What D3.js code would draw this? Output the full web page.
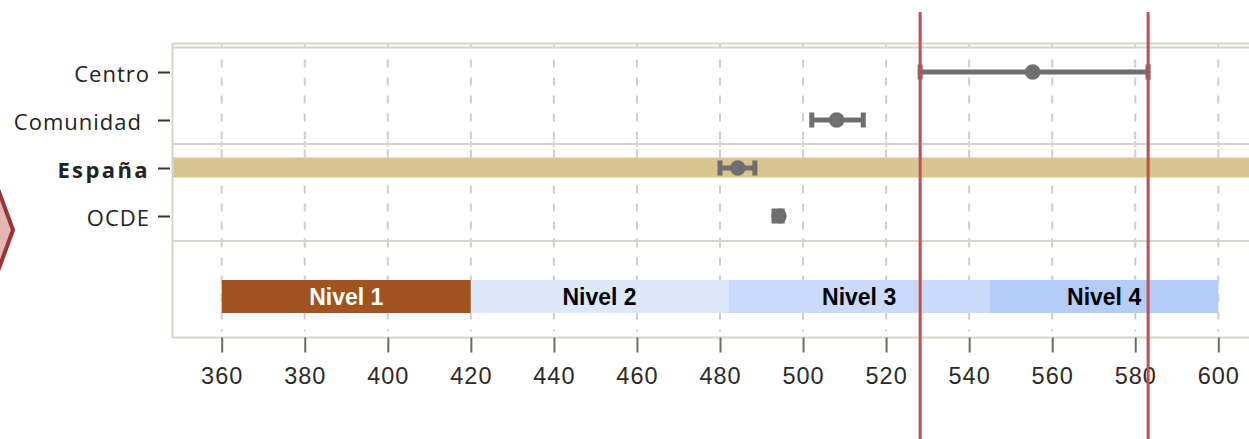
<!DOCTYPE html>
<html>
<head>
<meta charset="utf-8">
<script src="https://cdn.jsdelivr.net/npm/d3@7"></script>
<style>
  html, body { margin: 0; padding: 0; background: #fff; }
  svg { display: block; }
</style>
</head>
<body>
<svg id="chart" width="1249" height="439"></svg>
<script>
// ---- data ----
const categories = ["Centro", "Comunidad", "España", "OCDE"];
const meanScores = [555.3, 508.1, 484.3, 494.2];
const lowerBounds = [528.2, 502.1, 480.0, 493.0];
const upperBounds = [583.1, 514.5, 488.4, 495.0];
const highlighted = "España";
const levelNames = ["Nivel 1", "Nivel 2", "Nivel 3", "Nivel 4"];
const levelStarts = [360, 420, 482, 545];
const levelEnds = [420, 482, 545, 600];
const levelColors = ["#A0531F", "#DDE8FC", "#C9DBFB", "#B3CCF8"];
const levelTextColors = ["#ffffff", "#000000", "#000000", "#000000"];
const xTicks = [360, 380, 400, 420, 440, 460, 480, 500, 520, 540, 560, 580, 600];
const referenceLines = [528.2, 583.1];

// ---- layout ----
const svg = d3.select("#chart");
const x = d3.scaleLinear().domain([360, 600]).range([221.7, 1218.3]);
const y = d3.scalePoint().domain(categories).range([72, 216]);
const panelLeft = 172.5, panelRight = 1260;
const outerTop = 43.5, panelTop = 47.5, sep1 = 144, sep2 = 241, panelBottom = 337.5;
const levelY = 280, levelH = 33;
const borderColor = "#D5D5CA";
const gridColor = "#CDCDCD";

// left decorative chevron
svg.append("polygon")
  .attr("points", [[-60, 140], [-20, 140], [13, 230], [-20, 320], [-60, 320]].map(p => p.join(",")).join(" "))
  .attr("fill", "#E3B6B6").attr("stroke", "#9E3333").attr("stroke-width", 4);

// dashed grid
const grid = svg.append("g");
grid.selectAll("line").data(xTicks).join("line")
  .attr("x1", d => x(d)).attr("x2", d => x(d))
  .attr("y1", panelTop + 12).attr("y2", panelBottom - 6)
  .attr("stroke", gridColor).attr("stroke-width", 2)
  .attr("stroke-dasharray", "8,10");

// España band
svg.append("rect")
  .attr("x", panelLeft).attr("width", panelRight - panelLeft)
  .attr("y", y(highlighted) - 10.5).attr("height", 20)
  .attr("fill", "#D9C590");

// panel borders
const frame = svg.append("g").attr("stroke", borderColor).attr("stroke-width", 2).attr("fill", "none");
[outerTop, panelTop, sep1, sep2, panelBottom].forEach(yy => {
  frame.append("line").attr("x1", panelLeft).attr("x2", panelRight).attr("y1", yy).attr("y2", yy);
});
frame.append("line").attr("x1", panelLeft).attr("x2", panelLeft).attr("y1", outerTop).attr("y2", panelBottom);
// small ticks on borders
frame.selectAll("line.tt").data(xTicks).join("line").attr("class", "tt")
  .attr("x1", d => x(d)).attr("x2", d => x(d)).attr("y1", outerTop).attr("y2", panelTop);
[sep1, sep2].forEach(yy => {
  frame.selectAll(null).data(xTicks).join("line")
    .attr("x1", d => x(d)).attr("x2", d => x(d)).attr("y1", yy - 3).attr("y2", yy + 3);
});

// level bars
const levels = svg.append("g");
levels.selectAll("rect").data(levelNames).join("rect")
  .attr("x", (d, i) => x(levelStarts[i]))
  .attr("width", (d, i) => x(levelEnds[i]) - x(levelStarts[i]))
  .attr("y", levelY).attr("height", levelH)
  .attr("fill", (d, i) => levelColors[i]);
levels.selectAll("text").data(levelNames).join("text")
  .attr("x", (d, i) => x((levelStarts[i] + levelEnds[i]) / 2))
  .attr("y", levelY + levelH / 2)
  .attr("dy", "0.36em")
  .attr("text-anchor", "middle")
  .attr("font-family", "'Liberation Sans', Arial, sans-serif")
  .attr("font-weight", "bold").attr("font-size", 23)
  .attr("fill", (d, i) => levelTextColors[i])
  .text(d => d);

// error bars
const marks = svg.append("g").attr("fill", "#6F6F6F").attr("stroke", "#6F6F6F");
categories.forEach((c, i) => {
  const g = marks.append("g");
  g.append("line").attr("x1", x(lowerBounds[i])).attr("x2", x(upperBounds[i]))
    .attr("y1", y(c)).attr("y2", y(c)).attr("stroke-width", 5);
  [lowerBounds[i], upperBounds[i]].forEach(v => {
    g.append("rect").attr("x", x(v) - 2.5).attr("width", 5)
      .attr("y", y(c) - 7.5).attr("height", 15).attr("stroke", "none");
  });
  g.append("circle").attr("cx", x(meanScores[i])).attr("cy", y(c)).attr("r", 7.8).attr("stroke", "none");
});

// bottom axis
const xAxis = svg.append("g").attr("transform", `translate(0,${panelBottom})`)
  .call(d3.axisBottom(x).tickValues(xTicks).tickSize(15).tickPadding(15).tickFormat(d3.format("d")));
xAxis.select(".domain").remove();
xAxis.selectAll(".tick line").attr("stroke", "#6A6A6A").attr("stroke-width", 2);
xAxis.selectAll(".tick text")
  .attr("font-family", "'Liberation Sans', Arial, sans-serif")
  .attr("font-size", 23.5).attr("fill", "#2A2A2A")
  .attr("letter-spacing", "1px");

// left axis
const yAxis = svg.append("g").attr("transform", `translate(170,0)`)
  .call(d3.axisLeft(y).tickSize(12).tickPadding(8));
yAxis.select(".domain").remove();
yAxis.selectAll(".tick line").attr("stroke", "#333").attr("stroke-width", 2);
yAxis.selectAll(".tick text")
  .attr("font-family", "'Open Sans', sans-serif")
  .attr("font-size", 22).attr("fill", "#222")
  .attr("dy", "0.42em")
  .attr("letter-spacing", d => d === highlighted ? "2.4px" : "1px")
  .attr("font-weight", d => d === highlighted ? "bold" : "normal")
  .attr("dx", d => d === "Comunidad" ? -8 : 0);

// red reference lines
svg.append("g").selectAll("line").data(referenceLines).join("line")
  .attr("x1", d => x(d)).attr("x2", d => x(d))
  .attr("y1", 12).attr("y2", 439)
  .attr("stroke", "#C0504D").attr("stroke-width", 3);
</script>
</body>
</html>
